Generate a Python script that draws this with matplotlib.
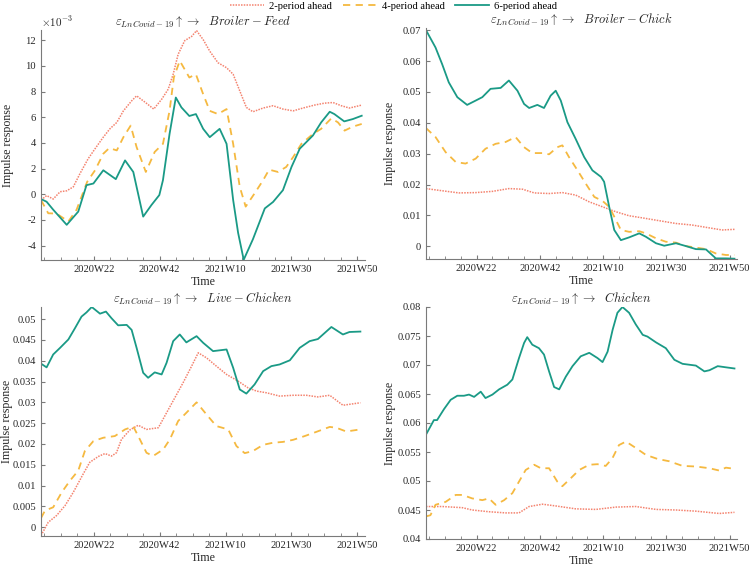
import matplotlib
matplotlib.use('Agg')
import matplotlib.pyplot as plt
import numpy as np
from matplotlib.ticker import FixedLocator
from matplotlib.lines import Line2D

plt.rcParams['font.family'] = ['Liberation Serif', 'DejaVu Serif']
plt.rcParams['mathtext.fontset'] = 'cm'

# week index: 0 = 2020W06
tick_pos = [16, 36, 56, 76, 96]
tick_labels = ['2020W22', '2020W42', '2021W10', '2021W30', '2021W50']

# Broiler-Feed (values x 1e-3)
feed_x2 = [0, 1.7, 3.7, 5.8, 7.8, 9.8, 11.8, 14.3, 16.4, 18.9, 20.9, 23, 25, 27.5, 29, 31.7, 34.2, 36.6, 38.6,
           40.1, 41.6, 43.6, 45.7, 47.2, 49.2, 51.2, 53.7, 56.3, 58.3, 60.3, 62.3, 64.3, 67.4, 70.4, 73.4, 76.5,
           79.5, 83, 86, 88.6, 91.1, 93.6, 97.3]
feed_y2 = [-0.45, -0.1, -0.37, 0.2, 0.27, 0.58, 1.6, 2.77, 3.55, 4.45, 5.1, 5.6, 6.5, 7.28, 7.67, 7.15, 6.64, 7.4,
           8.19, 9.35, 10.9, 11.97, 12.3, 12.75, 12.05, 11.15, 10.25, 9.86, 9.35, 8.06, 6.77, 6.43, 6.72, 6.9, 6.64,
           6.5, 6.72, 6.95, 7.1, 7.15, 6.9, 6.72, 6.95]
feed_x4 = [0, 2.2, 4.7, 8.3, 10.8, 14, 16.4, 18.9, 20.7, 23, 25, 27.2, 29, 31.8, 34.5, 37, 39, 40.3, 42.1, 45, 47,
           49.2, 51.2, 53.7, 56.3, 58.3, 60.3, 62.1, 64.8, 67.4, 69.2, 71.9, 74.4, 76.5, 79, 82.5, 85, 88.1, 90.1,
           92.1, 94.6, 97.3]
feed_y4 = [-0.45, -1.48, -1.5, -2.12, -1.2, 0.97, 1.87, 3.16, 3.6, 3.42, 4.45, 5.35, 3.68, 1.74, 3.3, 3.93, 6.5,
           9.1, 10.4, 9.1, 9.35, 7.8, 6.5, 6.25, 6.64, 3.93, 0.58, -0.96, 0.07, 1.1, 1.92, 1.74, 2.13, 2.9, 3.93,
           4.7, 5.1, 5.92, 5.6, 4.96, 5.27, 5.48]
feed_x6 = [0, 1.7, 3.7, 7.8, 11.3, 13.8, 15.9, 18.9, 22.7, 25.5, 28, 31, 33.5, 35.9, 37, 39, 40.9, 42.6, 45, 47,
           49.2, 51.2, 54.2, 56.3, 58.3, 59.8, 61.5, 64.3, 67.9, 70.4, 73.4, 76, 78.5, 82.5, 85, 87.6, 89, 92,
           94.6, 97.3]
feed_y6 = [-0.37, -0.58, -1.2, -2.38, -1.35, 0.71, 0.84, 1.87, 1.18, 2.64, 1.74, -1.74, -0.84, -0.06, 1.1, 4.7,
           7.54, 6.77, 6.1, 6.25, 5.1, 4.45, 5.1, 3.93, -0.45, -3.0, -5.1, -3.5, -1.1, -0.6, 0.32, 2.13, 3.55, 4.58,
           5.6, 6.43, 6.25, 5.68, 5.86, 6.12]

# Broiler-Chick
chick_x2 = [0, 5.1, 10.4, 15.7, 21, 26.2, 30.5, 34.2, 38.9, 43.1, 47.3, 51.6, 55.8, 60, 64.2, 68.5, 73.7, 79,
            84.1, 89.4, 93.6, 97.5]
chick_y2 = [0.0187, 0.018, 0.0173, 0.0174, 0.0178, 0.0187, 0.0185, 0.0173, 0.0171, 0.0174, 0.0166, 0.0144,
            0.0128, 0.0112, 0.0099, 0.0092, 0.0083, 0.0074, 0.0069, 0.006, 0.0053, 0.0055]
chick_x4 = [0, 3, 6.2, 9.4, 12.5, 15.7, 18.8, 22, 25.2, 28.3, 31, 33.6, 36.8, 38.9, 41.5, 43.1, 45.2, 47.9, 50.5,
            53.2, 55.8, 57.9, 59.5, 61.6, 64.2, 67.4, 69.5, 72.7, 75.8, 79, 82.1, 85.3, 88.5, 91.6, 94.8, 97.5]
chick_y4 = [0.0383, 0.0354, 0.0305, 0.0273, 0.0268, 0.0284, 0.0316, 0.0332, 0.0338, 0.0354, 0.0321, 0.0302,
            0.0302, 0.0298, 0.0321, 0.0327, 0.0289, 0.0246, 0.0203, 0.016, 0.0147, 0.0128, 0.0096, 0.0053,
            0.0047, 0.0049, 0.0042, 0.0026, 0.0015, 0.0012, 0.0001, -0.0004, -0.0009, -0.0023, -0.0028, -0.0028]
chick_x6 = [0, 3, 5.1, 7.2, 9.9, 13, 15.7, 17.8, 20.4, 23.6, 26.2, 28.9, 31, 32.6, 35.2, 37.3, 39.4, 41, 42.6,
            44.7, 47.3, 50, 52.6, 55.3, 56.3, 57.9, 59.5, 61.6, 64.2, 67.4, 69.5, 72.7, 75.3, 79, 82.1, 85.3, 88.5,
            91.6, 94.8, 97.5]
chick_y6 = [0.070, 0.0644, 0.059, 0.0531, 0.0483, 0.0458, 0.0472, 0.0483, 0.051, 0.0513, 0.0537, 0.0504, 0.0461,
            0.0448, 0.0458, 0.0448, 0.0488, 0.0504, 0.0472, 0.0402, 0.0348, 0.0289, 0.0246, 0.0225, 0.0209,
            0.0128, 0.0053, 0.0020, 0.0029, 0.0042, 0.0031, 0.0010, 0.0002, 0.0010, 0.0001, -0.0009, -0.001,
            -0.0039, -0.0039, -0.004]

# Live-Chicken
live_x2 = [0, 2.2, 4.7, 7.3, 9.8, 12.8, 14.8, 17.4, 19.4, 21.4, 22.9, 24.4, 27, 29.5, 32, 35.6, 38.1, 40.6, 43.1,
           45.7, 47.7, 50.2, 53.2, 56.3, 59.8, 62.8, 65.4, 68.4, 72.4, 76.5, 80.5, 84, 87.6, 91.6, 96.9]
live_y2 = [-0.002, 0.0012, 0.0028, 0.0052, 0.0084, 0.0128, 0.0156, 0.017, 0.0177, 0.0171, 0.0179, 0.0211, 0.0234,
           0.0245, 0.0235, 0.0239, 0.0275, 0.0311, 0.0347, 0.0387, 0.0419, 0.0407, 0.0387, 0.0367, 0.0351, 0.0335,
           0.0327, 0.0323, 0.0315, 0.0317, 0.0317, 0.0313, 0.0317, 0.0293, 0.0299]
live_x4 = [0, 1.2, 3.7, 6.3, 8.8, 11.3, 13.3, 15.9, 18.9, 22.4, 25.5, 28, 30, 32, 34, 37.1, 39.1, 41.6, 44.1,
           47.2, 50.2, 53.2, 56.8, 59.3, 61.8, 64.3, 67.4, 70.4, 73.4, 76.5, 80, 83.5, 87.6, 89.6, 92.6, 96.9]
live_y4 = [0.0022, 0.004, 0.0048, 0.0084, 0.0112, 0.0136, 0.0183, 0.0207, 0.0215, 0.0219, 0.0235, 0.0242, 0.0211,
           0.0179, 0.0171, 0.0187, 0.0211, 0.0255, 0.0275, 0.030, 0.0271, 0.0243, 0.0235, 0.0195, 0.0178, 0.0183,
           0.0198, 0.0203, 0.0205, 0.021, 0.0219, 0.0229, 0.0241, 0.0239, 0.023, 0.0235]
live_x6 = [0, 1.7, 3.7, 5.8, 8.3, 10.3, 12.3, 13.8, 15.4, 17.9, 19.7, 21.4, 23.4, 26, 27.5, 29, 31, 32.5, 34.5,
           36.6, 38.1, 40.1, 42.1, 44.1, 47.2, 49.2, 52.2, 56.3, 58.3, 60.3, 62.3, 64.8, 67.4, 69.9, 72.4, 75.5,
           78.5, 81.5, 84, 88.1, 91.6, 93.6, 96.9]
live_y6 = [0.0393, 0.0384, 0.0415, 0.0431, 0.0451, 0.0478, 0.0506, 0.0516, 0.0529, 0.0513, 0.0518, 0.0502, 0.0485,
           0.0486, 0.0474, 0.0431, 0.0371, 0.0359, 0.0372, 0.0367, 0.0395, 0.0447, 0.0463, 0.0444, 0.0459, 0.0443,
           0.0423, 0.0427, 0.0383, 0.0331, 0.0321, 0.0343, 0.0375, 0.0387, 0.0391, 0.0401, 0.0431, 0.0447, 0.0452,
           0.0481, 0.0463, 0.0469, 0.047]

# Chicken
chk_x2 = [0, 5.1, 11.5, 14.6, 19.9, 25.2, 29.4, 32.6, 36.8, 41, 47.3, 53.7, 60, 66.3, 72.7, 79, 85.3, 92.7, 97.5]
chk_y2 = [0.0456, 0.0456, 0.0454, 0.045, 0.0447, 0.0445, 0.0445, 0.0456, 0.046, 0.0457, 0.0452, 0.0451, 0.0455,
          0.0456, 0.0451, 0.045, 0.0448, 0.0444, 0.0446]
chk_x4 = [0, 1.4, 3, 6.2, 9.4, 11.5, 14.6, 17.8, 19.9, 22, 24.7, 27.3, 29.4, 31.5, 34.2, 36.3, 38.9, 41.5, 43.1,
          45.8, 48.4, 51.6, 54.2, 56.8, 58.9, 61, 63.2, 66.3, 69.5, 73.2, 76.9, 81.1, 85.3, 89.6, 92.7, 94.8, 97.5]
chk_y4 = [0.0439, 0.0441, 0.0459, 0.0464, 0.0476, 0.0476, 0.047, 0.0467, 0.047, 0.0459, 0.0467, 0.0479, 0.0499,
          0.0519, 0.0528, 0.0522, 0.0522, 0.0499, 0.0491, 0.0505, 0.0519, 0.0528, 0.0529, 0.0526, 0.0539, 0.0562,
          0.0568, 0.0557, 0.0545, 0.0538, 0.0534, 0.0526, 0.0525, 0.0522, 0.0518, 0.0523, 0.0521]
chk_x6 = [0, 1.4, 2.5, 3.5, 5.7, 7.8, 9.9, 12, 13.6, 15.2, 17.3, 18.8, 21, 23.1, 25.7, 27.3, 29.4, 31, 32, 33.6,
          35.7, 37.3, 38.9, 40.5, 42.1, 44.2, 46.3, 48.9, 51.6, 54.2, 55.8, 57.4, 59, 60.5, 62.1, 64.2, 66.3, 68.5,
          70, 72.7, 75.8, 78.5, 81.1, 85.3, 88, 89.6, 92.2, 94.8, 97.5]
chk_y6 = [0.058, 0.0594, 0.0605, 0.0605, 0.0624, 0.064, 0.0647, 0.0647, 0.0649, 0.0645, 0.0654, 0.0643, 0.0649,
          0.0658, 0.0666, 0.0675, 0.0712, 0.0738, 0.0748, 0.0735, 0.0729, 0.0718, 0.0689, 0.0662, 0.0658, 0.068,
          0.0698, 0.0715, 0.0721, 0.0712, 0.0705, 0.0723, 0.0761, 0.079, 0.080, 0.079, 0.077, 0.0752, 0.0749,
          0.0739, 0.0729, 0.0709, 0.0702, 0.0699, 0.0689, 0.0691, 0.0698, 0.0696, 0.0694]

c2 = '#F4836F'
c4 = '#F5B940'
c6 = '#1A9A86'

fig = plt.figure(figsize=(7.5, 5.66), dpi=100)

# pixel boxes (left, top, right, bottom) and right edge of the y label
boxes = [(41, 30, 365, 260), (426, 28, 737, 259), (41, 307, 365, 536), (426, 307, 737, 539)]
ylab_px = [14, 396, 13, 396]
panels = [
    ('Broiler-Feed', r'$\varepsilon_{LnCovid-19}\uparrow\rightarrow\ \ \mathit{Broiler-Feed}$',
     (feed_x2, feed_y2), (feed_x4, feed_y4), (feed_x6, feed_y6), (-5.12, 12.8), [-4, -2, 0, 2, 4, 6, 8, 10, 12]),
    ('Broiler-Chick', r'$\varepsilon_{LnCovid-19}\uparrow\rightarrow\ \ \mathit{Broiler-Chick}$',
     (chick_x2, chick_y2), (chick_x4, chick_y4), (chick_x6, chick_y6), (-0.0041, 0.0707),
     [0, 0.01, 0.02, 0.03, 0.04, 0.05, 0.06, 0.07]),
    ('Live-Chicken', r'$\varepsilon_{LnCovid-19}\uparrow\rightarrow\ \ \mathit{Live-Chicken}$',
     (live_x2, live_y2), (live_x4, live_y4), (live_x6, live_y6), (-0.0021, 0.0529),
     [0, 0.005, 0.01, 0.015, 0.02, 0.025, 0.03, 0.035, 0.04, 0.045, 0.05]),
    ('Chicken', r'$\varepsilon_{LnCovid-19}\uparrow\rightarrow\ \ \mathit{Chicken}$',
     (chk_x2, chk_y2), (chk_x4, chk_y4), (chk_x6, chk_y6), (0.04, 0.08),
     [0.04, 0.045, 0.05, 0.055, 0.06, 0.065, 0.07, 0.075, 0.08]),
]

W, H = 750, 566
for (l, t, r, b), ylx, (name, title, s2, s4, s6, ylim, yt) in zip(boxes, ylab_px, panels):
    ax = fig.add_axes([l / W, 1 - b / H, (r - l) / W, (b - t) / H])
    ax.plot(s2[0], s2[1], color=c2, ls=(0, (1, 0.8)), lw=1.1)
    ax.plot(s4[0], s4[1], color=c4, ls=(0, (4, 3)), lw=1.3)
    ax.plot(s6[0], s6[1], color=c6, ls='-', lw=1.3)
    ax.set_xlim(0, 98.3)
    ax.set_ylim(*ylim)
    ax.set_xticks(tick_pos)
    ax.set_xticklabels(tick_labels)
    ax.xaxis.set_minor_locator(FixedLocator(np.arange(1, 99, 5)))
    ax.set_yticks(yt)
    ax.set_yticklabels(['%g' % v for v in yt])
    for s in ['top', 'right']:
        ax.spines[s].set_visible(False)
    for s in ['left', 'bottom']:
        ax.spines[s].set_color('#7a7a7a')
        ax.spines[s].set_linewidth(0.8)
    ax.tick_params(which='both', direction='in', colors='#7a7a7a', labelcolor='#262626', labelsize=7.6)
    ax.tick_params(which='major', length=3)
    ax.tick_params(which='minor', length=2)
    ax.set_title(title, fontsize=9, pad=1.5, color='#262626')
    ax.set_ylabel('Impulse response', fontsize=8.6, color='#262626')
    ax.set_xlabel('Time', fontsize=8.6, color='#262626')
    ax.yaxis.set_label_coords((ylx - l) / (r - l), 0.5)
    ax.xaxis.set_label_coords(0.5, -16 / (b - t))
    if name == 'Broiler-Feed':
        ax.text(0.0, 1.005, r'$\times10^{-3}$', transform=ax.transAxes, fontsize=8, color='#262626',
                ha='left', va='bottom')

handles = [Line2D([], [], color=c2, ls=(0, (1, 0.8)), lw=1.1),
           Line2D([], [], color=c4, ls=(0, (4, 3)), lw=1.3),
           Line2D([], [], color=c6, ls='-', lw=1.3)]
fig.legend(handles, ['2-period ahead', '4-period ahead', '6-period ahead'], loc='upper center',
           bbox_to_anchor=(0.525, 0.999), ncol=3, frameon=False, fontsize=7.6, handlelength=3.2,
           columnspacing=1.0, handletextpad=0.5, borderaxespad=0.0, borderpad=0.1)

fig.savefig('out.png', dpi=100)
